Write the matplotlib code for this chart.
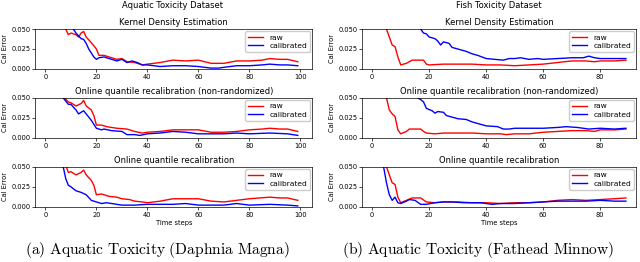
import matplotlib
matplotlib.use("Agg")
from matplotlib import pyplot as plt

plt.rcParams['mathtext.fontset'] = 'cm'

# ---- Daphnia Magna (left) ----
a_kde_raw_x = [7, 8, 9, 10, 12, 13, 14, 15, 16, 18, 20, 21, 23, 25, 28, 30, 32, 35, 38, 40, 45, 50, 55, 60, 65, 70, 75, 80, 85, 88, 92, 95, 99]
a_kde_raw_y = [0.060, 0.050, 0.043, 0.045, 0.043, 0.040, 0.045, 0.047, 0.040, 0.033, 0.025, 0.017, 0.017, 0.015, 0.012, 0.013, 0.009, 0.008, 0.005, 0.006, 0.008, 0.011, 0.010, 0.011, 0.007, 0.007, 0.010, 0.010, 0.011, 0.013, 0.012, 0.012, 0.009]
a_kde_cal_x = [10, 11, 12, 14, 15, 16, 17, 19, 20, 21, 23, 26, 28, 30, 32, 34, 36, 38, 40, 45, 50, 55, 60, 65, 68, 70, 75, 80, 85, 88, 92, 95, 99]
a_kde_cal_y = [0.060, 0.050, 0.045, 0.038, 0.037, 0.032, 0.025, 0.015, 0.012, 0.014, 0.015, 0.012, 0.010, 0.012, 0.008, 0.010, 0.008, 0.005, 0.005, 0.003, 0.004, 0.004, 0.003, 0.001, 0.001, 0.002, 0.004, 0.004, 0.005, 0.006, 0.005, 0.005, 0.004]

a_nr_raw_x = [6, 7, 9, 10, 12, 14, 15, 16, 18, 19, 20, 22, 24, 28, 32, 35, 38, 40, 45, 50, 55, 60, 65, 70, 75, 80, 85, 88, 92, 95, 99]
a_nr_raw_y = [0.060, 0.052, 0.045, 0.044, 0.040, 0.043, 0.047, 0.040, 0.035, 0.028, 0.016, 0.016, 0.014, 0.012, 0.011, 0.008, 0.006, 0.007, 0.008, 0.010, 0.010, 0.010, 0.007, 0.007, 0.008, 0.010, 0.011, 0.012, 0.011, 0.011, 0.008]
a_nr_cal_x = [6, 7, 9, 10, 12, 13, 15, 16, 18, 20, 22, 23, 26, 30, 32, 35, 37, 40, 45, 50, 55, 60, 65, 70, 75, 80, 88, 95, 99]
a_nr_cal_y = [0.060, 0.050, 0.042, 0.042, 0.035, 0.030, 0.034, 0.030, 0.022, 0.012, 0.010, 0.011, 0.009, 0.008, 0.004, 0.004, 0.003, 0.005, 0.006, 0.008, 0.007, 0.005, 0.005, 0.005, 0.006, 0.005, 0.006, 0.005, 0.003]

a_oq_raw_x = [7, 8, 9, 10, 12, 14, 15, 16, 18, 19, 20, 22, 25, 28, 30, 33, 35, 38, 40, 45, 50, 55, 60, 65, 70, 75, 80, 88, 92, 95, 99]
a_oq_raw_y = [0.060, 0.052, 0.043, 0.044, 0.040, 0.043, 0.046, 0.040, 0.033, 0.027, 0.015, 0.016, 0.013, 0.012, 0.010, 0.009, 0.007, 0.006, 0.005, 0.007, 0.010, 0.010, 0.010, 0.007, 0.006, 0.008, 0.010, 0.012, 0.011, 0.011, 0.008]
a_oq_cal_x = [6, 7, 8, 9, 10, 12, 14, 16, 18, 20, 22, 24, 28, 30, 35, 40, 45, 50, 55, 60, 70, 75, 80, 88, 95, 99]
a_oq_cal_y = [0.070, 0.050, 0.035, 0.027, 0.025, 0.020, 0.018, 0.015, 0.008, 0.006, 0.004, 0.005, 0.003, 0.002, 0.002, 0.003, 0.003, 0.003, 0.004, 0.002, 0.002, 0.004, 0.002, 0.003, 0.002, 0.001]

# ---- Fathead Minnow (right) ----
b_kde_raw_x = [4, 5, 6, 7, 8, 9, 10, 12, 14, 16, 18, 19, 20, 25, 30, 35, 40, 45, 50, 55, 60, 65, 70, 75, 78, 80, 85, 89]
b_kde_raw_y = [0.070, 0.050, 0.040, 0.030, 0.028, 0.015, 0.005, 0.007, 0.011, 0.011, 0.011, 0.006, 0.005, 0.006, 0.006, 0.006, 0.005, 0.005, 0.004, 0.005, 0.006, 0.008, 0.010, 0.010, 0.009, 0.010, 0.010, 0.011]
b_kde_cal_x = [16, 17, 18, 19, 20, 22, 23, 24, 25, 27, 28, 30, 33, 35, 37, 40, 43, 46, 48, 50, 52, 55, 58, 60, 65, 70, 74, 76, 78, 80, 85, 89]
b_kde_cal_y = [0.060, 0.050, 0.045, 0.044, 0.040, 0.038, 0.035, 0.030, 0.034, 0.032, 0.027, 0.025, 0.022, 0.019, 0.017, 0.013, 0.012, 0.011, 0.013, 0.013, 0.014, 0.012, 0.013, 0.012, 0.013, 0.014, 0.014, 0.016, 0.014, 0.013, 0.013, 0.013]

b_nr_raw_x = [4, 5, 6, 7, 8, 9, 10, 12, 13, 16, 17, 18, 19, 22, 25, 30, 35, 40, 45, 47, 50, 55, 60, 65, 70, 75, 78, 80, 85, 89]
b_nr_raw_y = [0.070, 0.050, 0.035, 0.030, 0.027, 0.010, 0.005, 0.008, 0.011, 0.011, 0.011, 0.008, 0.006, 0.005, 0.006, 0.006, 0.006, 0.005, 0.005, 0.004, 0.005, 0.005, 0.007, 0.008, 0.009, 0.009, 0.008, 0.010, 0.010, 0.011]
b_nr_cal_x = [15, 16, 17, 18, 19, 21, 22, 23, 25, 26, 28, 30, 33, 35, 38, 40, 44, 46, 48, 50, 55, 60, 65, 68, 72, 76, 80, 85, 89]
b_nr_cal_y = [0.060, 0.050, 0.048, 0.045, 0.037, 0.034, 0.031, 0.033, 0.032, 0.028, 0.026, 0.024, 0.023, 0.020, 0.017, 0.015, 0.014, 0.011, 0.011, 0.012, 0.012, 0.012, 0.013, 0.014, 0.013, 0.011, 0.012, 0.011, 0.012]

b_oq_raw_x = [4, 5, 6, 7, 8, 9, 10, 12, 14, 17, 19, 22, 25, 30, 35, 40, 45, 50, 55, 60, 65, 70, 75, 80, 85, 89]
b_oq_raw_y = [0.070, 0.050, 0.040, 0.030, 0.028, 0.012, 0.005, 0.008, 0.011, 0.011, 0.006, 0.005, 0.006, 0.006, 0.005, 0.005, 0.004, 0.005, 0.005, 0.006, 0.008, 0.009, 0.008, 0.009, 0.010, 0.011]
b_oq_cal_x = [3, 4, 5, 6, 7, 8, 9, 10, 12, 13, 15, 17, 19, 22, 25, 28, 32, 38, 42, 45, 50, 55, 60, 65, 70, 75, 80, 85, 89]
b_oq_cal_y = [0.070, 0.050, 0.030, 0.015, 0.008, 0.012, 0.005, 0.004, 0.007, 0.009, 0.008, 0.003, 0.003, 0.005, 0.006, 0.006, 0.005, 0.005, 0.003, 0.004, 0.004, 0.005, 0.006, 0.007, 0.007, 0.007, 0.008, 0.007, 0.007]

row_titles = ['Kernel Density Estimation',
              'Online quantile recalibration (non-randomized)',
              'Online quantile recalibration']

left_rows = [(a_kde_raw_x, a_kde_raw_y, a_kde_cal_x, a_kde_cal_y),
             (a_nr_raw_x, a_nr_raw_y, a_nr_cal_x, a_nr_cal_y),
             (a_oq_raw_x, a_oq_raw_y, a_oq_cal_x, a_oq_cal_y)]
right_rows = [(b_kde_raw_x, b_kde_raw_y, b_kde_cal_x, b_kde_cal_y),
              (b_nr_raw_x, b_nr_raw_y, b_nr_cal_x, b_nr_cal_y),
              (b_oq_raw_x, b_oq_raw_y, b_oq_cal_x, b_oq_cal_y)]

fig = plt.figure(figsize=(6.4, 2.62), dpi=100)

row_bottoms = [0.737, 0.474, 0.211]
row_h = 0.152
fs = 4.8


def draw_panel(x0, w, rows, xlim, xticks):
    for i, (rx, ry, cx, cy) in enumerate(rows):
        ax = fig.add_axes([x0, row_bottoms[i], w, row_h])
        ax.plot(rx, ry, color='red', lw=1.0, label='raw')
        ax.plot(cx, cy, color='blue', lw=1.0, label='calibrated')
        ax.set_xlim(*xlim)
        ax.set_ylim(0, 0.05)
        ax.set_yticks([0.0, 0.025, 0.05])
        ax.set_yticklabels(['0.000', '0.025', '0.050'])
        ax.set_xticks(xticks)
        ax.tick_params(labelsize=fs, length=2, width=0.5, pad=1.5)
        for s in ax.spines.values():
            s.set_linewidth(0.5)
        ax.set_title(row_titles[i], fontsize=6, pad=3)
        ax.set_ylabel('Cal Error', fontsize=fs, labelpad=2)
        ax.legend(loc='upper right', fontsize=5.4, handlelength=2.0,
                  borderpad=0.4, labelspacing=0.25, handletextpad=0.8,
                  framealpha=1, edgecolor='#cccccc', fancybox=True,
                  borderaxespad=0.3)
        if i == 2:
            ax.set_xlabel('Time steps', fontsize=fs, labelpad=2)


draw_panel(0.055, 0.433, left_rows, (-4, 104.7), [0, 20, 40, 60, 80, 100])
draw_panel(0.566, 0.428, right_rows, (-3.5, 92.6), [0, 20, 40, 60, 80])

fig.text(0.27, 0.98, 'Aquatic Toxicity Dataset', fontsize=6, ha='center', va='center')
fig.text(0.78, 0.98, 'Fish Toxicity Dataset', fontsize=6, ha='center', va='center')

fig.text(0.246, 0.045, r'$\mathrm{(a)\ Aquatic\ Toxicity\ (Daphnia\ Magna)}$',
         fontsize=11.2, ha='center', va='center')
fig.text(0.747, 0.045, r'$\mathrm{(b)\ Aquatic\ Toxicity\ (Fathead\ Minnow)}$',
         fontsize=11.2, ha='center', va='center')

fig.savefig('out.png', dpi=100)
